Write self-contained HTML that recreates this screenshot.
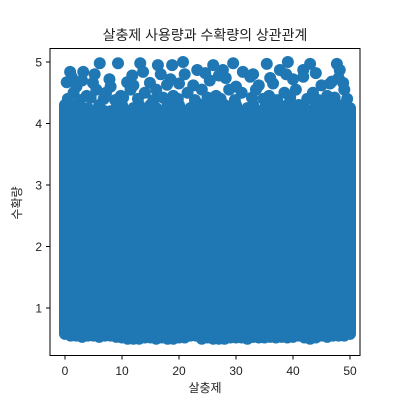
<!DOCTYPE html>
<html><head><meta charset="utf-8"><style>
body{margin:0;background:#fff}
svg text{font-family:"Liberation Sans","Noto Sans CJK KR",sans-serif;fill:#222}
</style></head><body>
<svg id="chart" width="400" height="400">
<text x="205" y="40" font-size="14" text-anchor="middle">살충제 사용량과 수확량의 상관관계</text>
<g id="marks"></g>
<rect x="50" y="48.5" width="310" height="307" fill="none" stroke="#000" stroke-width="1"/>
<g id="ticks"></g>
<text x="205" y="392" font-size="12" text-anchor="middle">살충제</text>
<text x="21" y="203" font-size="12" text-anchor="middle" transform="rotate(-90 21 203)">수확량</text>
</svg>
<script>
const colX = [0,1,2,3,4,5,6,7,8,9,10,11,12,13,14,15,16,17,18,19,20,21,22,23,24,25,26,27,28,29,30,31,32,33,34,35,36,37,38,39,40,41,42,43,44,45,46,47,48,49,50];
const colTop = [4.3,4.3,4.25,4.2,4.25,4.2,4.3,4.2,4.2,4.25,4.3,4.2,4.25,4.3,4.2,4.3,4.25,4.2,4.3,4.25,4.3,4.2,4.25,4.2,4.3,4.25,4.3,4.2,4.3,4.25,4.3,4.2,4.25,4.3,4.2,4.25,4.3,4.2,4.25,4.3,4.2,4.3,4.25,4.2,4.3,4.25,4.3,4.2,4.3,4.3,4.25];
const colBottom = [0.58,0.55,0.55,0.53,0.55,0.55,0.53,0.55,0.55,0.53,0.52,0.5,0.5,0.5,0.52,0.52,0.5,0.52,0.5,0.5,0.52,0.52,0.55,0.55,0.5,0.52,0.5,0.5,0.5,0.52,0.52,0.52,0.5,0.53,0.52,0.52,0.53,0.52,0.53,0.52,0.53,0.55,0.52,0.5,0.52,0.55,0.53,0.55,0.55,0.55,0.58];
const outX = [6.1,9.3,13.2,16.3,18.8,20.7,26,29.5,35.4,39.1,43,47.7,0.9,3.2,13.7,23.2,27.7,31.2,37.7,41.8,48.2,0.3,4.9,10.9,14.9,17.9,25.4,32.5,41.8,48.8,2,8,12,20,22.5,30,34,36.5,45,46.5,
  1.5,3.8,5.5,7.2,9.8,11.5,14,16,19,21.5,24,26.5,28.8,31,33.5,35.8,38.5,40.5,43.5,46,49,
  0.5,2.6,4.5,6.8,8.8,10.2,12.8,15.5,17.2,19.8,22.8,25,27.3,29.8,32.8,34.8,37.2,39.5,42.5,44.5,47.3,49.5,
  1.2,5.2,7.8,11.8,16.8,21,24.6,28.2,33,36,40,44,48,3,18.5,27,38.8,46.8];
const outY = [4.98,4.98,4.98,4.95,4.95,5.0,4.95,4.98,4.97,5.0,4.97,4.97,4.84,4.84,4.84,4.87,4.87,4.84,4.87,4.87,4.87,4.67,4.66,4.67,4.66,4.63,4.7,4.76,4.76,4.66,4.6,4.6,4.62,4.65,4.62,4.6,4.62,4.65,4.62,4.65,
  4.5,4.45,4.55,4.5,4.45,4.55,4.5,4.55,4.45,4.5,4.55,4.45,4.55,4.5,4.55,4.45,4.5,4.55,4.5,4.45,4.55,
  4.4,4.38,4.42,4.4,4.38,4.42,4.4,4.38,4.42,4.4,4.38,4.42,4.4,4.38,4.42,4.4,4.38,4.42,4.4,4.38,4.42,4.4,
  4.75,4.8,4.72,4.78,4.8,4.8,4.82,4.74,4.8,4.74,4.72,4.82,4.74,4.7,4.72,4.78,4.8,4.68];
const xTicks = [0,10,20,30,40,50];
const yTicks = [1,2,3,4,5];

const sx = v => 65 + v * 5.7;
const sy = v => 308 - (v - 1) * 61.5;
const NS = 'http://www.w3.org/2000/svg';
const marks = document.getElementById('marks');
const ticks = document.getElementById('ticks');
const C = '#1f77b4', R = 6;

colX.forEach((x, i) => {
  const r = document.createElementNS(NS, 'rect');
  r.setAttribute('x', sx(x) - R);
  r.setAttribute('y', sy(colTop[i]) - R);
  r.setAttribute('width', 2 * R);
  r.setAttribute('height', sy(colBottom[i]) - sy(colTop[i]) + 2 * R);
  r.setAttribute('rx', R);
  r.setAttribute('fill', C);
  
  
  marks.appendChild(r);
});
outX.forEach((x, i) => {
  const c = document.createElementNS(NS, 'circle');
  c.setAttribute('cx', sx(x));
  c.setAttribute('cy', sy(outY[i]));
  c.setAttribute('r', R);
  c.setAttribute('fill', C);
  
  
  marks.appendChild(c);
});
xTicks.forEach(v => {
  const l = document.createElementNS(NS, 'line');
  l.setAttribute('x1', sx(v)); l.setAttribute('x2', sx(v));
  l.setAttribute('y1', 355.5); l.setAttribute('y2', 359.5);
  l.setAttribute('stroke', '#000');
  
  
  ticks.appendChild(l);
  const t = document.createElementNS(NS, 'text');
  t.setAttribute('x', sx(v)); t.setAttribute('y', 375);
  t.setAttribute('font-size', '12'); t.setAttribute('text-anchor', 'middle');
  t.textContent = v;
  
  
  ticks.appendChild(t);
});
yTicks.forEach(v => {
  const l = document.createElementNS(NS, 'line');
  l.setAttribute('x1', 46); l.setAttribute('x2', 50);
  l.setAttribute('y1', sy(v)); l.setAttribute('y2', sy(v));
  l.setAttribute('stroke', '#000');
  
  
  ticks.appendChild(l);
  const t = document.createElementNS(NS, 'text');
  t.setAttribute('x', 42); t.setAttribute('y', sy(v) + 4.5);
  t.setAttribute('font-size', '12'); t.setAttribute('text-anchor', 'end');
  t.textContent = v;
  
  
  ticks.appendChild(t);
});
</script>
</body></html>
